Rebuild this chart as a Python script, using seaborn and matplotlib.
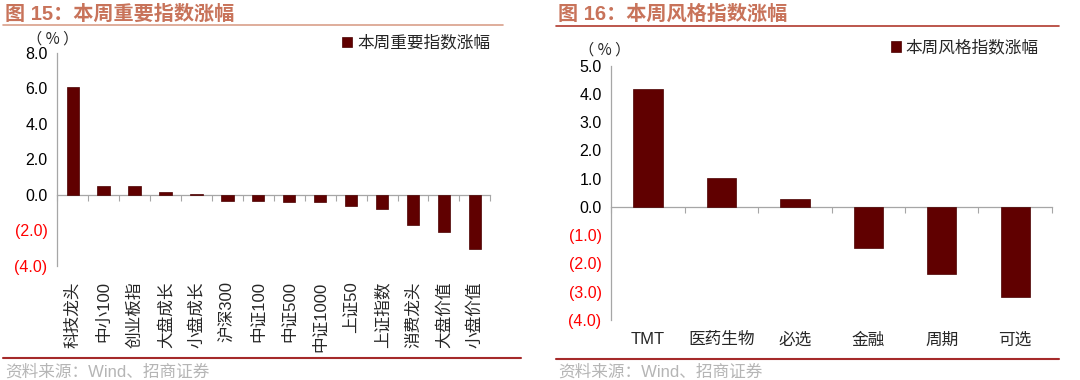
import numpy as np
import pandas as pd
import seaborn as sns
import matplotlib.pyplot as plt
from matplotlib.lines import Line2D
from matplotlib.ticker import FuncFormatter

# ---------------------------------------------------------------
# Data
# ---------------------------------------------------------------
idx_names = ["科技龙头", "中小100", "创业板指", "大盘成长", "小盘成长", "沪深300",
             "中证100", "中证500", "中证1000", "上证50", "上证指数", "消费龙头",
             "大盘价值", "小盘价值"]
idx_values = [6.05, 0.50, 0.48, 0.15, 0.03, -0.32, -0.36, -0.38, -0.40,
              -0.65, -0.80, -1.70, -2.07, -3.05]

style_names = ["TMT", "医药生物", "必选", "金融", "周期", "可选"]
style_values = [4.18, 1.03, 0.27, -1.44, -2.38, -3.19]

left_title = "图 15：本周重要指数涨幅"
right_title = "图 16：本周风格指数涨幅"
left_legend = "本周重要指数涨幅"
right_legend = "本周风格指数涨幅"
source_text = "资料来源：Wind、招商证券"

# ---------------------------------------------------------------
# Style
# ---------------------------------------------------------------
sns.set_theme(style="white")
plt.rcParams["font.family"] = ["Liberation Sans", "Noto Sans CJK SC", "DejaVu Sans"]

bar_color = "#600000"
axis_grey = "#a6a6a6"
title_color = "#c8735a"


def paren_fmt(v, pos):
    if v < 0:
        return f"({abs(v):.1f})"
    return f"{v:.1f}"


def draw_panel(ax, names, values, legend_label, ylim, ystep, rot, label_pad,
               legend_anchor, unit_pos):
    df = pd.DataFrame({"name": names, "value": values})
    sns.barplot(data=df, x="name", y="value", color=bar_color, saturation=1,
                width=0.4, ax=ax, label=legend_label, edgecolor="#4a0000", linewidth=0.5)
    ax.set_ylim(*ylim)
    ax.set_xlim(-0.5, len(names) - 0.5)
    ax.set_yticks(np.arange(ylim[0], ylim[1] + 0.001, ystep))
    ax.yaxis.set_major_formatter(FuncFormatter(paren_fmt))
    ax.tick_params(axis="y", direction="out", length=4, width=0.8, color=axis_grey,
                   labelsize=11.5, pad=3)
    for lbl, v in zip(ax.get_yticklabels(), ax.get_yticks()):
        lbl.set_color("#ff0000" if v < 0 else "black")
    ax.set_xlabel("")
    ax.set_ylabel("")
    ax.tick_params(axis="x", length=0, pad=label_pad, labelsize=12)
    for lbl in ax.get_xticklabels():
        lbl.set_rotation(rot)
        lbl.set_va("top")
        lbl.set_ha("center")
    for s in ["top", "right", "bottom"]:
        ax.spines[s].set_visible(False)
    ax.spines["left"].set_color(axis_grey)
    ax.spines["left"].set_linewidth(0.9)

    # zero line with category-boundary ticks
    zero_frac = (0 - ylim[0]) / (ylim[1] - ylim[0])
    sec = ax.secondary_xaxis(zero_frac)
    sec.set_xticks(np.arange(len(names) + 1) - 0.5)
    sec.set_xticklabels([])
    sec.tick_params(direction="out", length=4, width=0.8, color=axis_grey)
    sec.spines["bottom"].set_color(axis_grey)
    sec.spines["bottom"].set_linewidth(0.9)

    ax.text(unit_pos[0], unit_pos[1], "（ % ）", transform=ax.transAxes, fontsize=11,
            ha="center", va="bottom", family=["Noto Sans CJK SC", "DejaVu Sans"])
    ax.legend(loc="upper right", bbox_to_anchor=legend_anchor, frameon=False,
              fontsize=12, handlelength=0.6, handleheight=0.6, handletextpad=0.3,
              borderaxespad=0)
    ax.set_facecolor("white")


fig = plt.figure(figsize=(10.8, 3.8), dpi=100)
fig.patch.set_facecolor("white")

ax1 = fig.add_axes([0.053, 0.300, 0.401, 0.561])
draw_panel(ax1, idx_names, idx_values, left_legend, (-4, 8), 2, 90, 11,
           (1.015, 1.115), (-0.01, 1.025))

ax2 = fig.add_axes([0.566, 0.158, 0.408, 0.669])
draw_panel(ax2, style_names, style_values, right_legend, (-4, 5), 1, 0, 9,
           (0.985, 1.13), (-0.015, 1.03))

# titles, rules and source notes
fig.text(0.005, 0.963, left_title, color=title_color, fontsize=14.5,
         fontweight="bold", ha="left", va="center")
fig.text(0.517, 0.963, right_title, color=title_color, fontsize=14.5,
         fontweight="bold", ha="left", va="center")
fig.add_artist(Line2D([0.003, 0.466], [0.934, 0.934], color="#d9a08a", lw=1.2))
fig.add_artist(Line2D([0.515, 0.981], [0.932, 0.932], color="#b03a2e", lw=1.2))
fig.add_artist(Line2D([0.003, 0.482], [0.058, 0.058], color="#a52a2a", lw=1.5))
fig.add_artist(Line2D([0.515, 0.981], [0.056, 0.056], color="#a52a2a", lw=1.5))
fig.text(0.005, 0.021, source_text, color="#b5b5b5", fontsize=12, ha="left", va="center")
fig.text(0.517, 0.021, source_text, color="#b5b5b5", fontsize=12, ha="left", va="center")

fig.savefig("out.png", dpi=100, facecolor="white")
